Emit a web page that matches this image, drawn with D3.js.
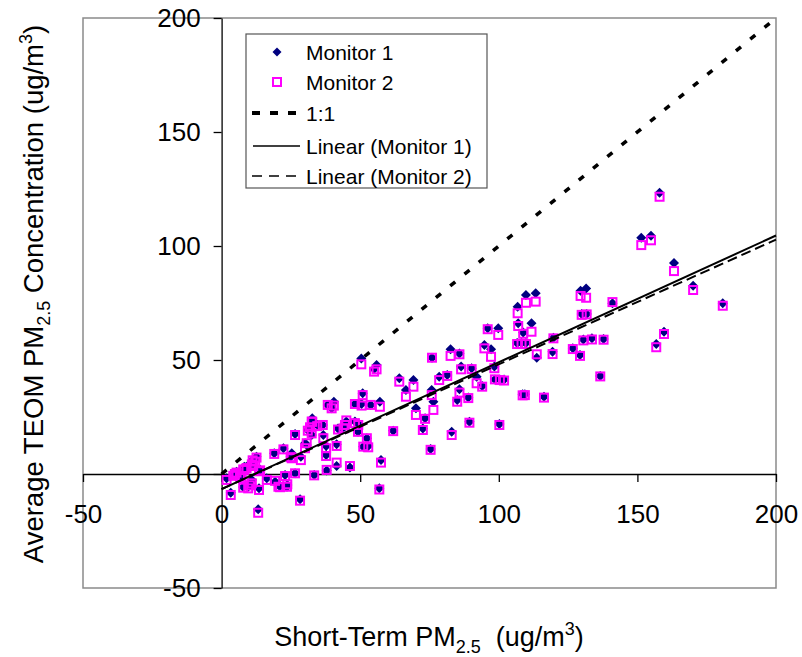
<!DOCTYPE html>
<html>
<head>
<meta charset="utf-8">
<script src="https://cdn.jsdelivr.net/npm/d3@7"></script>
<style>
  html, body { margin: 0; padding: 0; background: #fff; }
  svg { display: block; font-family: "Liberation Sans", Arial, Helvetica, sans-serif; }
</style>
</head>
<body>
<svg id="chart" width="802" height="657"></svg>
<script>
// values
var shortTerm = [1.8, 3.3, 4.2, 4.8, 5.4, 6.6, 7.2, 7.8, 7.8, 8.2, 9.0, 9.6, 10.2, 10.9, 10.9, 11.4, 11.2, 12.1, 12.6, 13.5,
  13.5, 13.2, 13.9, 16.3, 19.0, 19.3, 20.5, 21.1, 22.3, 22.9, 23.6, 23.7, 24.9, 25.3, 26.5, 26.5, 28.3, 28.6, 30.1, 30.7,
  31.1, 31.9, 32.5, 32.5, 32.7, 33.4, 34.5, 36.5, 36.7, 37.7, 37.7, 37.9, 38.3, 39.7, 40.5, 41.5, 41.5, 42.0, 44.0, 44.5,
  45.0, 46.3, 48.1, 48.1, 49.3, 49.2, 50.4, 50.5, 50.9, 51.1, 52.4, 52.9, 53.8, 55.0, 55.9, 56.9, 57.1, 57.5, 61.9, 64.1,
  66.5, 69.2, 70.1, 72.6, 73.4, 75.4, 75.8, 75.9, 76.4, 78.5, 81.4, 82.6, 83.0, 85.0, 85.8, 85.8, 86.4, 89.0, 89.4, 90.2,
  92.0, 94.0, 94.8, 96.0, 97.2, 98.4, 98.6, 99.8, 100.2, 100.4, 101.9, 106.8, 107.0, 106.6, 108.2, 109.8, 108.8, 111.8, 108.6, 109.4,
  109.8, 113.3, 113.7, 116.3, 119.4, 119.7, 126.7, 129.3, 129.5, 131.5, 129.9, 131.7, 130.5, 133.6, 136.6, 137.8, 141.0, 151.4, 154.9, 156.8,
  158.0, 159.6, 163.2, 170.1, 180.8];

var monitor1 = [-1.9, -8.2, -0.4, 0.3, 1.0, -0.4, -1.2, 2.5, -5.7, 3.2, 3.2, -5.6, -4.8, -2.6, 4.7, 3.9, 6.1, 6.5, 7.6, 1.4,
  -6.3, -15.5, 1.9, -1.9, 9.1, -3.4, -4.8, -5.3, 11.3, -0.4, -5.6, -4.8, 7.6, 9.1, 0.3, 17.5, -11.1, 7.6, 13.5, 12.7,
  19.3, 21.0, 17.1, 23.7, 24.4, -0.4, 21.5, 21.5, 17.1, 12.3, 8.3, 1.5, 30.3, 28.8, 31.7, 13.0, 3.5, 20.0, 20.5, 21.0,
  23.0, 2.9, 23.0, 30.7, 22.2, 18.5, 50.7, 30.7, 35.4, 12.0, 15.7, 12.3, 30.3, 46.0, 47.8, -6.3, 31.7, 6.1, 19.0, 42.0,
  36.8, 41.2, 28.8, 20.0, 24.4, 11.0, 36.8, 51.0, 31.7, 42.7, 43.4, 54.7, 18.5, 32.5, 52.9, 37.2, 47.1, 33.6, 22.9, 46.4,
  42.7, 38.6, 56.6, 63.9, 54.7, 47.1, 41.5, 63.9, 21.9, 41.5, 41.5, 73.4, 66.1, 57.5, 57.5, 57.5, 62.1, 66.1, 35.0, 35.0,
  78.5, 79.3, 51.0, 33.9, 53.6, 59.8, 55.1, 52.2, 80.4, 81.4, 70.2, 70.2, 59.0, 59.5, 43.0, 59.2, 74.9, 103.6, 104.5, 57.0,
  123.4, 62.4, 92.5, 82.6, 74.9];

var monitor2 = [-2.6, -9.2, -0.8, 0.0, 0.6, -1.0, -1.8, 2.0, -6.0, 1.8, 2.6, -6.3, -5.0, -4.1, 4.2, 3.5, 6.0, 5.4, 7.2, 1.2,
  -7.0, -17.0, 1.6, -2.6, 8.8, -3.0, -5.6, -5.8, 10.8, -0.9, -5.6, -4.5, 7.4, 6.9, 0.3, 17.1, -11.7, 6.1, 11.3, 13.5,
  19.0, 20.5, 17.8, 23.0, 22.9, -0.6, 21.0, 21.5, 15.7, 11.3, 7.9, 1.8, 30.3, 28.8, 30.0, 12.3, 5.0, 19.5, 20.0, 21.5,
  23.5, 3.5, 22.3, 30.7, 21.5, 18.5, 48.1, 30.0, 34.6, 12.0, 15.7, 11.7, 30.3, 44.9, 45.9, -6.8, 29.5, 5.0, 18.8, 40.5,
  33.9, 38.3, 25.9, 19.3, 24.2, 10.6, 34.6, 51.0, 28.1, 41.2, 43.0, 51.8, 17.1, 31.7, 52.5, 35.7, 45.9, 33.3, 22.5, 46.0,
  39.8, 38.3, 55.1, 63.5, 51.4, 46.4, 41.5, 61.0, 21.5, 41.2, 41.0, 70.5, 64.9, 57.0, 57.0, 57.0, 61.5, 62.4, 34.5, 34.6,
  75.1, 75.6, 52.5, 33.5, 52.6, 59.5, 54.8, 51.8, 78.1, 77.3, 69.8, 70.0, 58.6, 59.0, 42.8, 58.9, 75.4, 100.4, 102.5, 55.6,
  121.6, 61.4, 89.0, 80.7, 73.8];

var xTicks = [-50, 0, 50, 100, 150, 200];
var yTicks = [-50, 0, 50, 100, 150, 200];
var oneToOne = [0, 200];
var trendRange = [0, 200];
var trendSlope = [0.556, 0.547];
var trendIntercept = [-6.6, -6.6];
var legendLabels = ["Monitor 1", "Monitor 2", "1:1", "Linear (Monitor 1)", "Linear (Monitor 2)"];

(function () {
  "use strict";

  var svg = d3.select("#chart");
  var plotLeft = 83, plotRight = 776, plotTop = 18, plotBottom = 588;
  var x = d3.scaleLinear().domain([-50, 200]).range([plotLeft, plotRight]);
  var y = d3.scaleLinear().domain([-50, 200]).range([plotBottom, plotTop]);

  var navy = "#000080";
  var magenta = "#ff00ff";
  var diamond = "M0,-5L5,0L0,5L-5,0Z";
  var plainNumber = function (d) { return String(d); };

  // plot frame
  svg.append("rect")
    .attr("x", plotLeft).attr("y", plotTop)
    .attr("width", plotRight - plotLeft).attr("height", plotBottom - plotTop)
    .attr("fill", "none").attr("stroke", "#8a8a8a").attr("stroke-width", 1.5);

  function styleAxis(g) {
    g.select(".domain").attr("stroke", "#000").attr("stroke-width", 1.3);
    g.selectAll(".tick line").attr("stroke", "#000").attr("stroke-width", 1.3);
    g.selectAll(".tick text").attr("font-size", 26).attr("fill", "#000")
      .attr("font-family", "\"Liberation Sans\", Arial, sans-serif");
  }

  svg.append("g")
    .attr("transform", "translate(0," + y(0) + ")")
    .call(d3.axisBottom(x).tickValues(xTicks).tickSize(8).tickSizeOuter(0).tickPadding(23).tickFormat(plainNumber))
    .call(styleAxis);

  svg.append("g")
    .attr("transform", "translate(" + x(0) + ",0)")
    .call(d3.axisLeft(y).tickValues(yTicks).tickSize(8).tickSizeOuter(0).tickPadding(13).tickFormat(plainNumber))
    .call(styleAxis);

  // 1:1 line
  svg.append("line")
    .attr("x1", x(oneToOne[0])).attr("y1", y(oneToOne[0]))
    .attr("x2", x(oneToOne[1])).attr("y2", y(oneToOne[1]))
    .attr("stroke", "#000").attr("stroke-width", 3.5).attr("stroke-dasharray", "6.5,12");

  var points = shortTerm.map(function (v, i) {
    return { x: v, m1: monitor1[i], m2: monitor2[i] };
  });

  svg.append("g").selectAll("path")
    .data(points)
    .enter().append("path")
    .attr("d", diamond)
    .attr("transform", function (d) { return "translate(" + x(d.x) + "," + y(d.m1) + ")"; })
    .attr("fill", navy);

  svg.append("g").selectAll("rect")
    .data(points)
    .enter().append("rect")
    .attr("x", function (d) { return x(d.x) - 4; })
    .attr("y", function (d) { return y(d.m2) - 4; })
    .attr("width", 8).attr("height", 8)
    .attr("fill", "none").attr("stroke", magenta).attr("stroke-width", 2);

  // trend lines
  var trendStyles = [null, "10,5"];
  trendSlope.forEach(function (slope, i) {
    svg.append("line")
      .attr("x1", x(trendRange[0])).attr("y1", y(slope * trendRange[0] + trendIntercept[i]))
      .attr("x2", x(trendRange[1])).attr("y2", y(slope * trendRange[1] + trendIntercept[i]))
      .attr("stroke", "#000").attr("stroke-width", 2)
      .attr("stroke-dasharray", trendStyles[i]);
  });

  // legend
  var legend = svg.append("g").attr("transform", "translate(246,34)");
  legend.append("rect")
    .attr("width", 241).attr("height", 154)
    .attr("fill", "#fff").attr("stroke", "#555").attr("stroke-width", 1.2);

  var rowY = [18, 48, 79, 112, 142];
  legendLabels.forEach(function (label, i) {
    var row = legend.append("g").attr("transform", "translate(0," + rowY[i] + ")");
    if (i === 0) {
      row.append("path").attr("d", "M0,-4.5L4.5,0L0,4.5L-4.5,0Z").attr("transform", "translate(31,0)").attr("fill", navy);
    } else if (i === 1) {
      row.append("rect").attr("x", 27).attr("y", -4).attr("width", 8).attr("height", 8)
        .attr("fill", "none").attr("stroke", magenta).attr("stroke-width", 2);
    } else if (i === 2) {
      row.append("line").attr("x1", 6).attr("x2", 50).attr("stroke", "#000")
        .attr("stroke-width", 4).attr("stroke-dasharray", "8,10");
    } else if (i === 3) {
      row.append("line").attr("x1", 7).attr("x2", 54).attr("stroke", "#000").attr("stroke-width", 1.3);
    } else {
      row.append("line").attr("x1", 6).attr("x2", 52).attr("stroke", "#000")
        .attr("stroke-width", 1.5).attr("stroke-dasharray", "10,7");
    }
    row.append("text")
      .attr("x", 60).attr("dy", "0.36em")
      .attr("font-size", 21)
      .text(label);
  });

  // axis titles
  var xTitle = svg.append("text")
    .attr("x", 429).attr("y", 646)
    .attr("text-anchor", "middle")
    .attr("font-size", 27);
  xTitle.append("tspan").text("Short-Term PM");
  xTitle.append("tspan").attr("font-size", 18).attr("dy", 7).text("2.5");
  xTitle.append("tspan").attr("dy", -7).text("\u00a0\u00a0(ug/m");
  xTitle.append("tspan").attr("font-size", 18).attr("dy", -11).text("3");
  xTitle.append("tspan").attr("dy", 11).text(")");

  var yTitle = svg.append("text")
    .attr("transform", "translate(43,294) rotate(-90)")
    .attr("text-anchor", "middle")
    .attr("font-size", 27.5);
  yTitle.append("tspan").text("Average TEOM PM");
  yTitle.append("tspan").attr("font-size", 18).attr("dy", 7).text("2.5");
  yTitle.append("tspan").attr("dy", -7).text(" Concentration (ug/m");
  yTitle.append("tspan").attr("font-size", 18).attr("dy", -11).text("3");
  yTitle.append("tspan").attr("dy", 11).text(")");
}());
</script>
</body>
</html>
